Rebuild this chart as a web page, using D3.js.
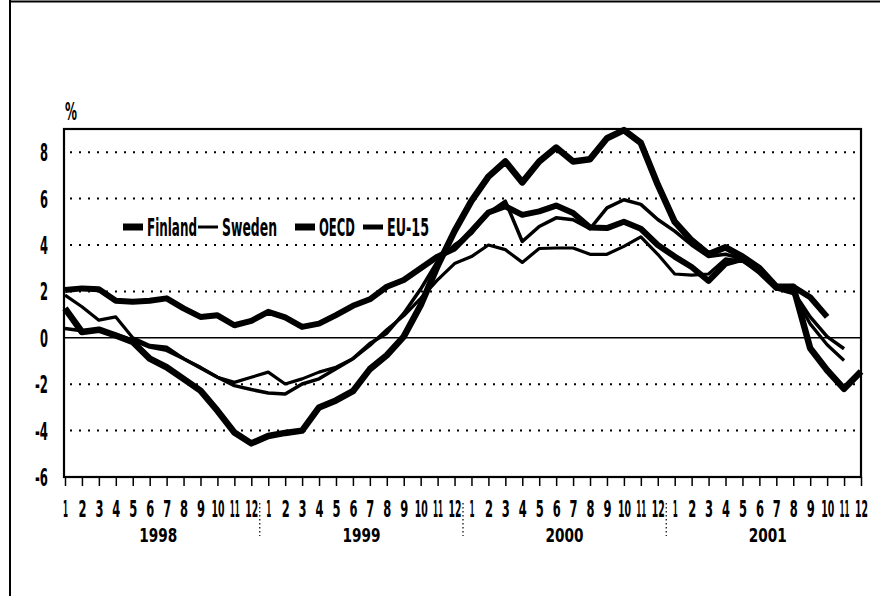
<!DOCTYPE html>
<html>
<head>
<meta charset="utf-8">
<script src="https://cdn.jsdelivr.net/npm/d3@7"></script>
<style>
body { margin: 0; background: #fff; }
text { font-family: "Liberation Sans Narrow", "DejaVu Sans Condensed", "Arial Narrow", sans-serif; font-weight: bold; fill: #000; }
</style>
</head>
<body>
<div id="chart"></div>
<script>
const width = 880, height = 596;
const plotLeft = 64, plotRight = 861, plotTop = 129, plotBottom = 477;

// data, Jan 1998 .. Dec 2001
const years = ['1998', '1999', '2000', '2001'];
const monthLabels = ['1','2','3','4','5','6','7','8','9','10','11','12'];
const yTicks = [-6, -4, -2, 0, 2, 4, 6, 8];

const finland = [1.27, 0.25, 0.35, 0.1, -0.18, -0.9, -1.27, -1.77, -2.28, -3.14, -4.08, -4.55,
  -4.23, -4.1, -4.0, -3.0, -2.7, -2.3, -1.35, -0.75, 0.05, 1.4, 3.1, 4.6,
  5.9, 6.95, 7.6, 6.7, 7.6, 8.2, 7.6, 7.7, 8.6, 8.95, 8.4, 6.6,
  5.0, 4.2, 3.6, 3.9, 3.5, 3.0, 2.2, 2.2, -0.45, -1.4, -2.2, -1.45];
const sweden = [1.84, 1.34, 0.76, 0.9, 0.0, -0.33, -0.4, -0.9, -1.27, -1.7, -1.92, -1.7,
  -1.48, -1.99, -1.77, -1.48, -1.27, -0.9, -0.33, 0.35, 0.95, 1.7, 2.5, 3.2,
  3.5, 4.0, 3.8, 3.25, 3.85, 3.87, 3.87, 3.6, 3.6, 3.94, 4.35, 3.6,
  2.75, 2.7, 2.75, 3.4, 3.3, 2.85, 2.1, 1.9, 0.6, -0.3, -0.98, null];
const oecd = [2.06, 2.13, 2.09, 1.6, 1.55, 1.6, 1.7, 1.27, 0.9, 0.97, 0.54, 0.73,
  1.12, 0.88, 0.47, 0.61, 0.98, 1.38, 1.66, 2.2, 2.49, 3.0, 3.5, 3.85,
  4.6, 5.4, 5.67, 5.3, 5.45, 5.7, 5.38, 4.75, 4.73, 5.0, 4.7, 4.0,
  3.5, 3.05, 2.45, 3.2, 3.4, 2.85, 2.15, 2.2, 1.75, 0.9, null, null];
const eu15 = [0.4, 0.3, 0.35, 0.15, -0.1, -0.4, -0.54, -0.9, -1.3, -1.7, -2.06, -2.23,
  -2.38, -2.42, -1.99, -1.77, -1.33, -0.9, -0.25, 0.2, 1.05, 2.1, 3.3, 4.0,
  4.5, 5.38, 5.89, 4.15, 4.8, 5.17, 5.09, 4.7, 5.6, 5.95, 5.75, 5.1,
  4.6, 4.0, 3.5, 3.6, 3.4, 2.95, 2.25, 2.0, 0.9, 0.05, -0.47, null];

const seriesNames = ['Finland', 'Sweden', 'OECD', 'EU-15'];
const seriesData = [finland, sweden, oecd, eu15];
const seriesWidth = [6.5, 3.2, 6, 3.5];

const months = d3.range(years.length * 12);

const x = d3.scalePoint().domain(months).range([plotLeft + 1, plotRight]);
const y = d3.scaleLinear().domain([-6, 9]).range([plotBottom, plotTop]);

// rough width of the condensed bold lettering in the original
function textW(s) {
    let w = 0;
    for (const c of s) w += (c === '1' || c === '-') ? 5 : (c === '%' ? 12 : 8);
    return w;
}

// squeeze a text horizontally to a target width, keeping its anchor point
function squeeze(sel, px, py, w) {
    sel.each(function(d, i) {
        const t = d3.select(this);
        const natural = this.getComputedTextLength();
        const target = typeof w === 'function' ? w.call(this, d, i) : w;
        const sx = natural > 0 ? Math.min(1, target / natural) : 1;
        const X = typeof px === 'function' ? px(d, i) : px;
        const Y = typeof py === 'function' ? py(d, i) : py;
        t.attr('x', 0).attr('y', 0)
         .attr('transform', 'translate(' + X + ',' + Y + ') scale(' + sx + ',1)');
    });
}

const svg = d3.select('#chart').append('svg')
    .attr('width', width).attr('height', height);

svg.append('rect').attr('width', width).attr('height', height).attr('fill', '#fff');

// page frame
svg.append('line').attr('x1', 10).attr('x2', 10).attr('y1', 0).attr('y2', height)
    .attr('stroke', '#000').attr('stroke-width', 2);
svg.append('line').attr('x1', 10).attr('x2', width).attr('y1', 1.5).attr('y2', 1.5)
    .attr('stroke', '#000').attr('stroke-width', 2);

// dotted grid
svg.append('g').selectAll('line')
    .data(yTicks.filter(v => v !== 0 && v !== -6))
    .join('line')
    .attr('x1', plotLeft + 6).attr('x2', plotRight - 2)
    .attr('y1', d => y(d)).attr('y2', d => y(d))
    .attr('stroke', '#000').attr('stroke-width', 2)
    .attr('stroke-dasharray', '2,7');

svg.append('line')
    .attr('x1', plotLeft).attr('x2', plotRight).attr('y1', y(0)).attr('y2', y(0))
    .attr('stroke', '#000').attr('stroke-width', 1.5);

// y labels
svg.append('g').selectAll('text')
    .data(yTicks)
    .join('text')
    .attr('text-anchor', 'end')
    .attr('font-size', 25)
    .text(d => d)
    .call(squeeze, 48, d => y(d) + 9, d => textW(String(d)));

svg.append('text')
    .attr('font-size', 24)
    .text('%')
    .call(squeeze, 65, 120, 12);

// x axis
const xAxis = svg.append('g')
    .attr('transform', 'translate(0,' + plotBottom + ')')
    .call(d3.axisBottom(x).tickSize(9).tickFormat(i => monthLabels[i % 12]));
xAxis.select('.domain').remove();
xAxis.attr('font-family', null).attr('font-size', null);
xAxis.selectAll('.tick line').attr('stroke', '#000').attr('stroke-width', 1.5);
xAxis.selectAll('.tick text')
    .attr('dy', null)
    .attr('font-size', 23)
    .attr('fill', '#000')
    .call(squeeze, 0, 40, function() { return textW(this.textContent); });

// year labels and separators
years.forEach((yr, k) => {
    const cx = (x(k * 12) + x(k * 12 + 11)) / 2;
    svg.append('text')
        .attr('text-anchor', 'middle')
        .attr('font-size', 20)
        .text(yr)
        .call(squeeze, cx, 542, 38);
    if (k > 0) {
        const sx = (x(k * 12 - 1) + x(k * 12)) / 2;
        svg.append('line')
            .attr('x1', sx).attr('x2', sx).attr('y1', 503).attr('y2', 536)
            .attr('stroke', '#000').attr('stroke-width', 1.2)
            .attr('stroke-dasharray', '1.5,2.5');
    }
});

// lines
const line = d3.line()
    .defined(d => d != null)
    .x((d, i) => x(i))
    .y(d => y(d));

[3, 1, 2, 0].forEach(k => {
    svg.append('path')
        .datum(seriesData[k])
        .attr('d', line)
        .attr('fill', 'none')
        .attr('stroke', '#000')
        .attr('stroke-width', seriesWidth[k])
        .attr('stroke-linejoin', 'round');
});

// plot frame
svg.append('rect')
    .attr('x', plotLeft).attr('y', plotTop)
    .attr('width', plotRight - plotLeft).attr('height', plotBottom - plotTop)
    .attr('fill', 'none').attr('stroke', '#000').attr('stroke-width', 2.2);

// legend
const legendX = [123, 198, 295, 363];
const legendTextW = [50, 55, 36, 42];
const legendSample = [7, 3, 7, 5];
const legend = svg.append('g');
seriesNames.forEach((name, k) => {
    legend.append('line')
        .attr('x1', legendX[k]).attr('x2', legendX[k] + 20)
        .attr('y1', 227).attr('y2', 227)
        .attr('stroke', '#000').attr('stroke-width', legendSample[k]);
    legend.append('text')
        .attr('font-size', 25)
        .text(name)
        .call(squeeze, legendX[k] + 24, 236, legendTextW[k]);
});
</script>
</body>
</html>
